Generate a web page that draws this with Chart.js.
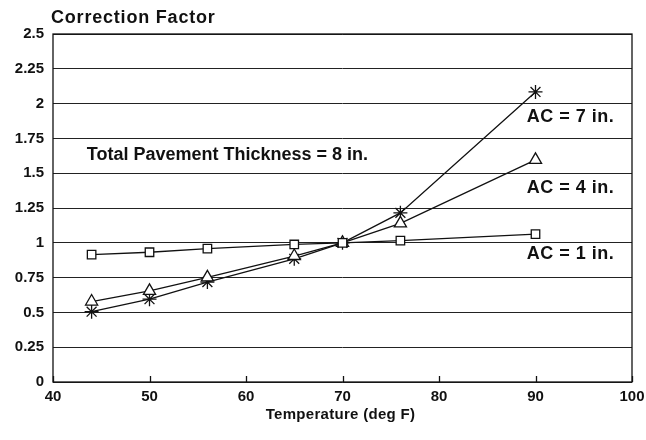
<!DOCTYPE html>
<html>
<head>
<meta charset="utf-8">
<script src="https://cdn.jsdelivr.net/npm/chart.js@4"></script>
<style>
html,body{margin:0;padding:0;background:#fff;}
#wrap{width:646px;height:440px;position:relative;}
</style>
</head>
<body>
<div id="wrap"><canvas id="c" width="646" height="440"></canvas></div>
<script>
const temperatures = [44, 50, 56, 65, 70, 76, 90];
const ac1 = [0.915, 0.932, 0.958, 0.988, 1.0, 1.015, 1.062];
const ac4 = [0.578, 0.655, 0.752, 0.905, 1.0, 1.14, 1.596];
const ac7 = [0.505, 0.595, 0.718, 0.885, 1.0, 1.215, 2.084];
const xTicks = [40, 50, 60, 70, 80, 90, 100];
const yTicks = [0, 0.25, 0.5, 0.75, 1, 1.25, 1.5, 1.75, 2, 2.25, 2.5];
const annotations = [
  {text: 'AC = 7 in.', x: 89.1, y: 1.905, spacing: '0.5px'},
  {text: 'AC = 4 in.', x: 89.1, y: 1.395, spacing: '0.5px'},
  {text: 'AC = 1 in.', x: 89.1, y: 0.92, spacing: '0.5px'},
  {text: 'Total Pavement Thickness = 8 in.', x: 43.5, y: 1.632, spacing: '0px'}
];
const yTitle = 'Correction Factor';
const xTitle = 'Temperature (deg F)';

const FONT = '"Liberation Sans", Arial, Helvetica, sans-serif';
const pts = arr => temperatures.map((t, i) => ({x: t, y: arr[i]}));

const ds = (label, arr, style, r) => ({
  label, data: pts(arr), borderColor: '#111', borderWidth: 1.3,
  pointStyle: style, pointRadius: r, pointHoverRadius: r,
  pointBackgroundColor: '#fff', pointBorderColor: '#111', pointBorderWidth: 1.3,
  tension: 0, fill: false
});

const decor = {
  id: 'decor',
  afterDraw(chart) {
    const ctx = chart.ctx, a = chart.chartArea;
    const xs = chart.scales.x, ys = chart.scales.y;
    ctx.save();
    ctx.strokeStyle = '#111';
    ctx.lineWidth = 1.3;
    ctx.strokeRect(a.left, a.top, a.right - a.left, a.bottom - a.top);
    xTicks.forEach(v => {
      const px = Math.round(xs.getPixelForValue(v)) + 0.5;
      ctx.beginPath(); ctx.moveTo(px, a.bottom); ctx.lineTo(px, a.bottom - 6); ctx.stroke();
    });
    ctx.fillStyle = '#111';
    ctx.textBaseline = 'middle';
    ctx.textAlign = 'left';
    ctx.font = 'bold 18px ' + FONT;
    annotations.forEach(an => {
      ctx.letterSpacing = an.spacing;
      ctx.fillText(an.text, xs.getPixelForValue(an.x), ys.getPixelForValue(an.y));
    });
    ctx.font = 'bold 18px ' + FONT;
    ctx.letterSpacing = '0.8px';
    ctx.fillText(yTitle, 51, 18);
    ctx.textAlign = 'center';
    ctx.font = 'bold 15px ' + FONT;
    ctx.letterSpacing = '0.3px';
    ctx.fillText(xTitle, (a.left + a.right) / 2 - 2, 415);
    ctx.restore();
  }
};

new Chart(document.getElementById('c'), {
  type: 'line',
  data: { datasets: [ ds('AC = 1 in.', ac1, 'rect', 6), ds('AC = 4 in.', ac4, 'triangle', 7), ds('AC = 7 in.', ac7, 'star', 7) ] },
  options: {
    responsive: false, animation: false,
    layout: { padding: { top: 34, right: 14, left: 0, bottom: 0 } },
    plugins: { legend: { display: false }, tooltip: { enabled: false } },
    scales: {
      x: {
        type: 'linear', min: 40, max: 100,
        afterBuildTicks: s => { s.ticks = xTicks.map(v => ({value: v})); },
        afterFit: s => { s.height = 58; s.paddingLeft = 0; s.paddingRight = 0; },
        grid: { display: false, drawTicks: false },
        border: { display: false },
        ticks: { color: '#111', font: { family: FONT, size: 15, weight: 'bold' }, padding: 6, maxRotation: 0 },
        title: { display: false }
      },
      y: {
        type: 'linear', min: 0, max: 2.5,
        afterBuildTicks: s => { s.ticks = yTicks.map(v => ({value: v})); },
        afterFit: s => { s.width = 53; },
        grid: { color: '#222', lineWidth: 1, drawTicks: false },
        border: { display: false },
        ticks: { color: '#111', font: { family: FONT, size: 15, weight: 'bold' }, padding: 9,
                 callback: v => String(v) }
      }
    }
  },
  plugins: [decor]
});
</script>
</body>
</html>
